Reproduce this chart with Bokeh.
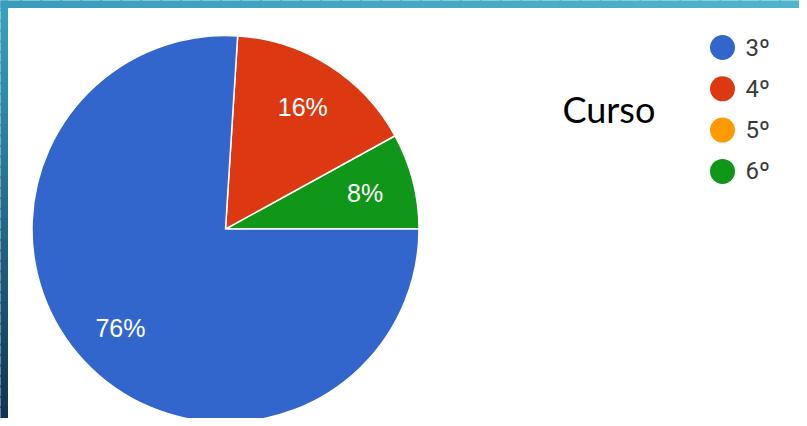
import numpy as np
from bokeh.plotting import figure
from bokeh.models import ColumnDataSource, Range1d
from bokeh.embed import file_html
from bokeh.resources import INLINE
from bokeh.core.properties import value

categories = ["3º", "4º", "5º", "6º"]
percents = [76, 16, 0, 8]
colors = ["#3366cc", "#dc3912", "#ff9900", "#109618"]
title_text = "Curso"

W, H = 799, 418
p = figure(width=W, height=H, x_range=Range1d(0, W), y_range=Range1d(0, H),
           output_backend="svg", toolbar_location=None, min_border=0,
           background_fill_color="white", border_fill_color="white")
p.axis.visible = False
p.grid.visible = False
p.outline_line_color = None

# slide frame (decoration): teal top band, left band fading to navy
def mix(c1, c2, t):
    a = [int(c1[i:i + 2], 16) for i in (1, 3, 5)]
    b = [int(c2[i:i + 2], 16) for i in (1, 3, 5)]
    return "#%02x%02x%02x" % tuple(int(round(a[k] + (b[k] - a[k]) * t)) for k in range(3))

n = 40
edges = np.linspace(H, 0, n + 1)
lc = [mix("#3aa2c0", "#0f3556", k / (n - 1)) for k in range(n)]
p.quad(left=0, right=7, top=edges[:-1] + 1.5, bottom=edges[1:],
       fill_color=lc, line_color=lc, line_width=1)
m = 40
xe = np.linspace(0, W, m + 1)
tc = [mix("#3a9cbc", "#4fb4cc", k / (m - 1)) for k in range(m)]
p.quad(left=xe[:-1], right=xe[1:] + 1.5, top=H, bottom=H - 7,
       fill_color=tc, line_color=tc, line_width=1)

cx, cy, r = 225, 189.5, 193.5

# counterclockwise from 3 o'clock: 6º, 5º, 4º, 3º
order = [i for i in reversed(range(len(categories))) if percents[i] > 0]
vals = np.array([percents[i] for i in order], dtype=float)
fr = vals / vals.sum() * 2 * np.pi
ends = np.cumsum(fr)
starts = ends - fr
src = ColumnDataSource(dict(
    start=starts, end=ends,
    color=[colors[i] for i in order],
    cat=[categories[i] for i in order],
    pct=vals,
))
p.wedge(x=cx, y=cy, radius=r, start_angle="start", end_angle="end",
        fill_color="color", line_color="white", line_width=1.5, source=src)

mid = (starts + ends) / 2
lr = 0.745 * r
lab = ColumnDataSource(dict(
    x=cx + lr * np.cos(mid), y=cy + lr * np.sin(mid),
    t=["%d%%" % v for v in vals],
))
p.text(x="x", y="y", text="t", source=lab, text_color="white",
       text_font=value("Liberation Sans"), text_font_size="25px",
       text_align="center", text_baseline="middle")

# legend
ly0, dy = 371, 41.3
ys = [ly0 - i * dy for i in range(len(categories))]
leg = ColumnDataSource(dict(x=[722] * len(categories), y=ys, color=colors, t=categories))
p.scatter(x="x", y="y", size=25, marker="circle", fill_color="color",
          line_color=None, source=leg)
p.text(x=745, y="y", text="t", source=leg, text_color="#3a3a3a",
       text_font=value("Roboto"), text_font_size="24px",
       text_align="left", text_baseline="middle")

p.text(x=[562], y=[310], text=[title_text], text_color="black",
       text_font=value("Lato"), text_font_size="36px",
       text_align="left", text_baseline="middle")

open("out.html", "w").write(file_html(p, INLINE))
